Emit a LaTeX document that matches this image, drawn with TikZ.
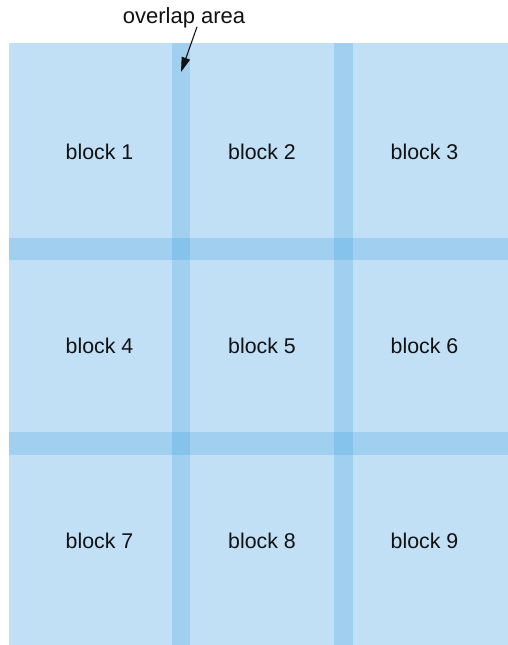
\documentclass[tikz,border=0pt]{standalone}
\usepackage{fontspec}
\setmainfont{Liberation Sans}
\usetikzlibrary{arrows.meta,calc,positioning}
\definecolor{blockink}{HTML}{111111}
\definecolor{blockfill}{RGB}{123,189,234}
\tikzset{
  blockcell/.style={rectangle,fill=blockfill,fill opacity=0.47,text opacity=1,
    draw=none,minimum width=135.75pt,minimum height=162.75pt,inner sep=0pt,
    text=blockink,font=\fontsize{16}{19}\selectfont},
  overlaplabel/.style={inner sep=1pt,text=blockink,font=\fontsize{16.5}{19}\selectfont},
  overlaparrow/.style={draw=blockink,line width=0.8pt,
    -{Triangle[length=11pt,width=6.5pt]}},
}
\begin{document}
\begin{tikzpicture}[x=0.75pt,y=-0.75pt]
        \path[use as bounding box] (0,0) rectangle (507,645);
        \foreach \r in {0,1,2}
          \foreach \c in {1,2,3}
            {\pgfmathtruncatemacro{\n}{3*\r+\c}
             \node[blockcell] (b\n) at ({99.5+162.5*(\c-1)},{151.5+194.5*\r}) {block \n};}
        \node[overlaplabel] (overlap) at (184,18) {overlap area};
        \coordinate (tip) at (181,72);
        \draw[overlaparrow] ($(overlap.south)+(13,-3)$) -- (tip);
      \end{tikzpicture}
\end{document}
